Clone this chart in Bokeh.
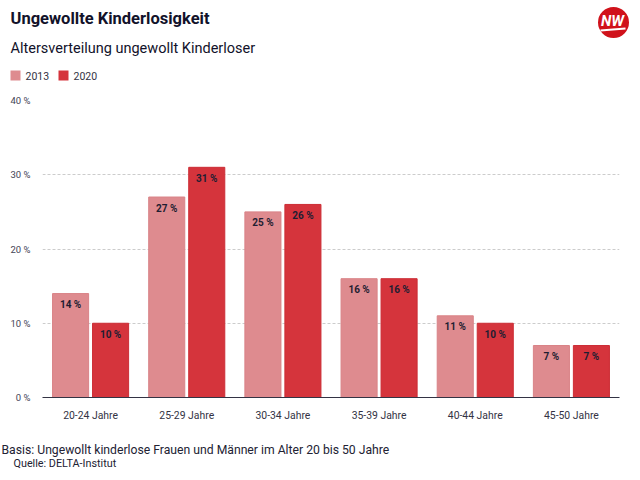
from bokeh.plotting import figure
from bokeh.layouts import column
from bokeh.models import ColumnDataSource, FactorRange, Range1d, FixedTicker, CustomJSTickFormatter
from bokeh.transform import dodge
from bokeh.core.properties import value
from bokeh.embed import file_html
from bokeh.resources import INLINE

categories = ["20-24 Jahre", "25-29 Jahre", "30-34 Jahre", "35-39 Jahre", "40-44 Jahre", "45-50 Jahre"]
values_2013 = [14, 27, 25, 16, 11, 7]
values_2020 = [10, 31, 26, 16, 10, 7]
series_names = ["2013", "2020"]
y_ticks = [0, 10, 20, 30, 40]
title = "Ungewollte Kinderlosigkeit"
subtitle = "Altersverteilung ungewollt Kinderloser"
note = "Basis: Ungewollt kinderlose Frauen und Männer im Alter 20 bis 50 Jahre"
source_text = "Quelle: DELTA-Institut"

FONT = "Roboto"
C13 = "#de8b8f"
C20 = "#d5343c"
W = 632
HH, CH, FH = 90, 345, 37


def blank(h):
    f = figure(width=W, height=h, x_range=Range1d(0, W), y_range=Range1d(h, 0),
               output_backend="svg", toolbar_location=None,
               x_axis_location=None, y_axis_location=None,
               min_border=0, min_border_left=0, min_border_right=0, min_border_top=0, min_border_bottom=0)
    f.outline_line_color = None
    f.xgrid.visible = False
    f.ygrid.visible = False
    try:
        f.frame_align = False
    except Exception:
        pass
    return f


def txt(f, x, y, t, size, style="normal", color="#111122", align="left"):
    f.text(x=[x], y=[y], text=[t], text_font=value(FONT), text_font_size=size,
           text_font_style=style, text_color=color, text_align=align, text_baseline="middle")


# ---- header ----
hdr = blank(HH)
txt(hdr, 10, 18, title, "16.5px", "bold", "#12122a")
txt(hdr, 10, 48, subtitle, "14.5px", "normal", "#12122a")
hdr.rect(x=[15, 63], y=[75, 75], width=10, height=10, fill_color=[C13, C20], line_color=None)
txt(hdr, 25, 75.5, series_names[0], "10.5px", color="#333344")
txt(hdr, 73, 75.5, series_names[1], "10.5px", color="#333344")
# logo
hdr.circle(x=[613], y=[22], radius=15.5, fill_color="#d0121b", line_color=None)
txt(hdr, 612, 20, "NW", "15px", "bold italic", "white", "center")
hdr.line(x=[600, 625], y=[30, 28], line_color="white", line_width=2)

# ---- chart ----
src = ColumnDataSource(dict(
    cat=categories, v13=values_2013, v20=values_2020,
    l13=[f"{v} %" for v in values_2013], l20=[f"{v} %" for v in values_2020],
))

p = figure(width=W, height=CH, x_range=FactorRange(*categories), y_range=Range1d(0, 40),
           output_backend="svg", toolbar_location=None,
           min_border_left=42, min_border_right=W - 619, min_border_top=10, min_border_bottom=38)
p.outline_line_color = None

p.vbar(x=dodge("cat", -0.208, range=p.x_range), top="v13", width=0.375, source=src,
       fill_color=C13, line_color="#d98387", line_width=1)
p.vbar(x=dodge("cat", 0.208, range=p.x_range), top="v20", width=0.375, source=src,
       fill_color=C20, line_color="#cc2d35", line_width=1)

for col, vcol, off in (("l13", "v13", -0.208), ("l20", "v20", 0.208)):
    p.text(x=dodge("cat", off, range=p.x_range), y=vcol, text=col, source=src,
           text_align="center", text_baseline="middle", y_offset=11,
           text_font=value(FONT), text_font_style="bold", text_font_size="10px",
           text_color="#1e1e32")

p.yaxis.ticker = FixedTicker(ticks=y_ticks)
p.yaxis.formatter = CustomJSTickFormatter(code="return tick + ' %';")
p.yaxis.axis_line_color = None
p.yaxis.major_tick_line_color = None
p.yaxis.minor_tick_line_color = None
p.yaxis.major_tick_out = 0
p.yaxis.major_tick_in = 0
p.yaxis.major_label_text_font = FONT
p.yaxis.major_label_text_font_size = "9.5px"
p.yaxis.major_label_text_color = "#444455"
p.yaxis.major_label_standoff = 12

p.xaxis.axis_line_color = "#333344"
p.xaxis.major_tick_line_color = None
p.xaxis.minor_tick_line_color = None
p.xaxis.major_tick_out = 0
p.xaxis.major_tick_in = 0
p.xaxis.major_label_text_font = FONT
p.xaxis.major_label_text_font_size = "10.4px"
p.xaxis.major_label_text_color = "#333344"
p.xaxis.major_label_standoff = 11

p.xgrid.grid_line_color = None
p.ygrid.grid_line_color = "#cccccc"
p.ygrid.grid_line_dash = "3 2"

# ---- footer ----
ftr = blank(FH)
txt(ftr, 1, 14, note, "12.2px", color="#222233")
txt(ftr, 13, 28, source_text, "10.8px", color="#222233")

layout = column(hdr, p, ftr, spacing=0)
open("out.html", "w").write(file_html(layout, INLINE))
